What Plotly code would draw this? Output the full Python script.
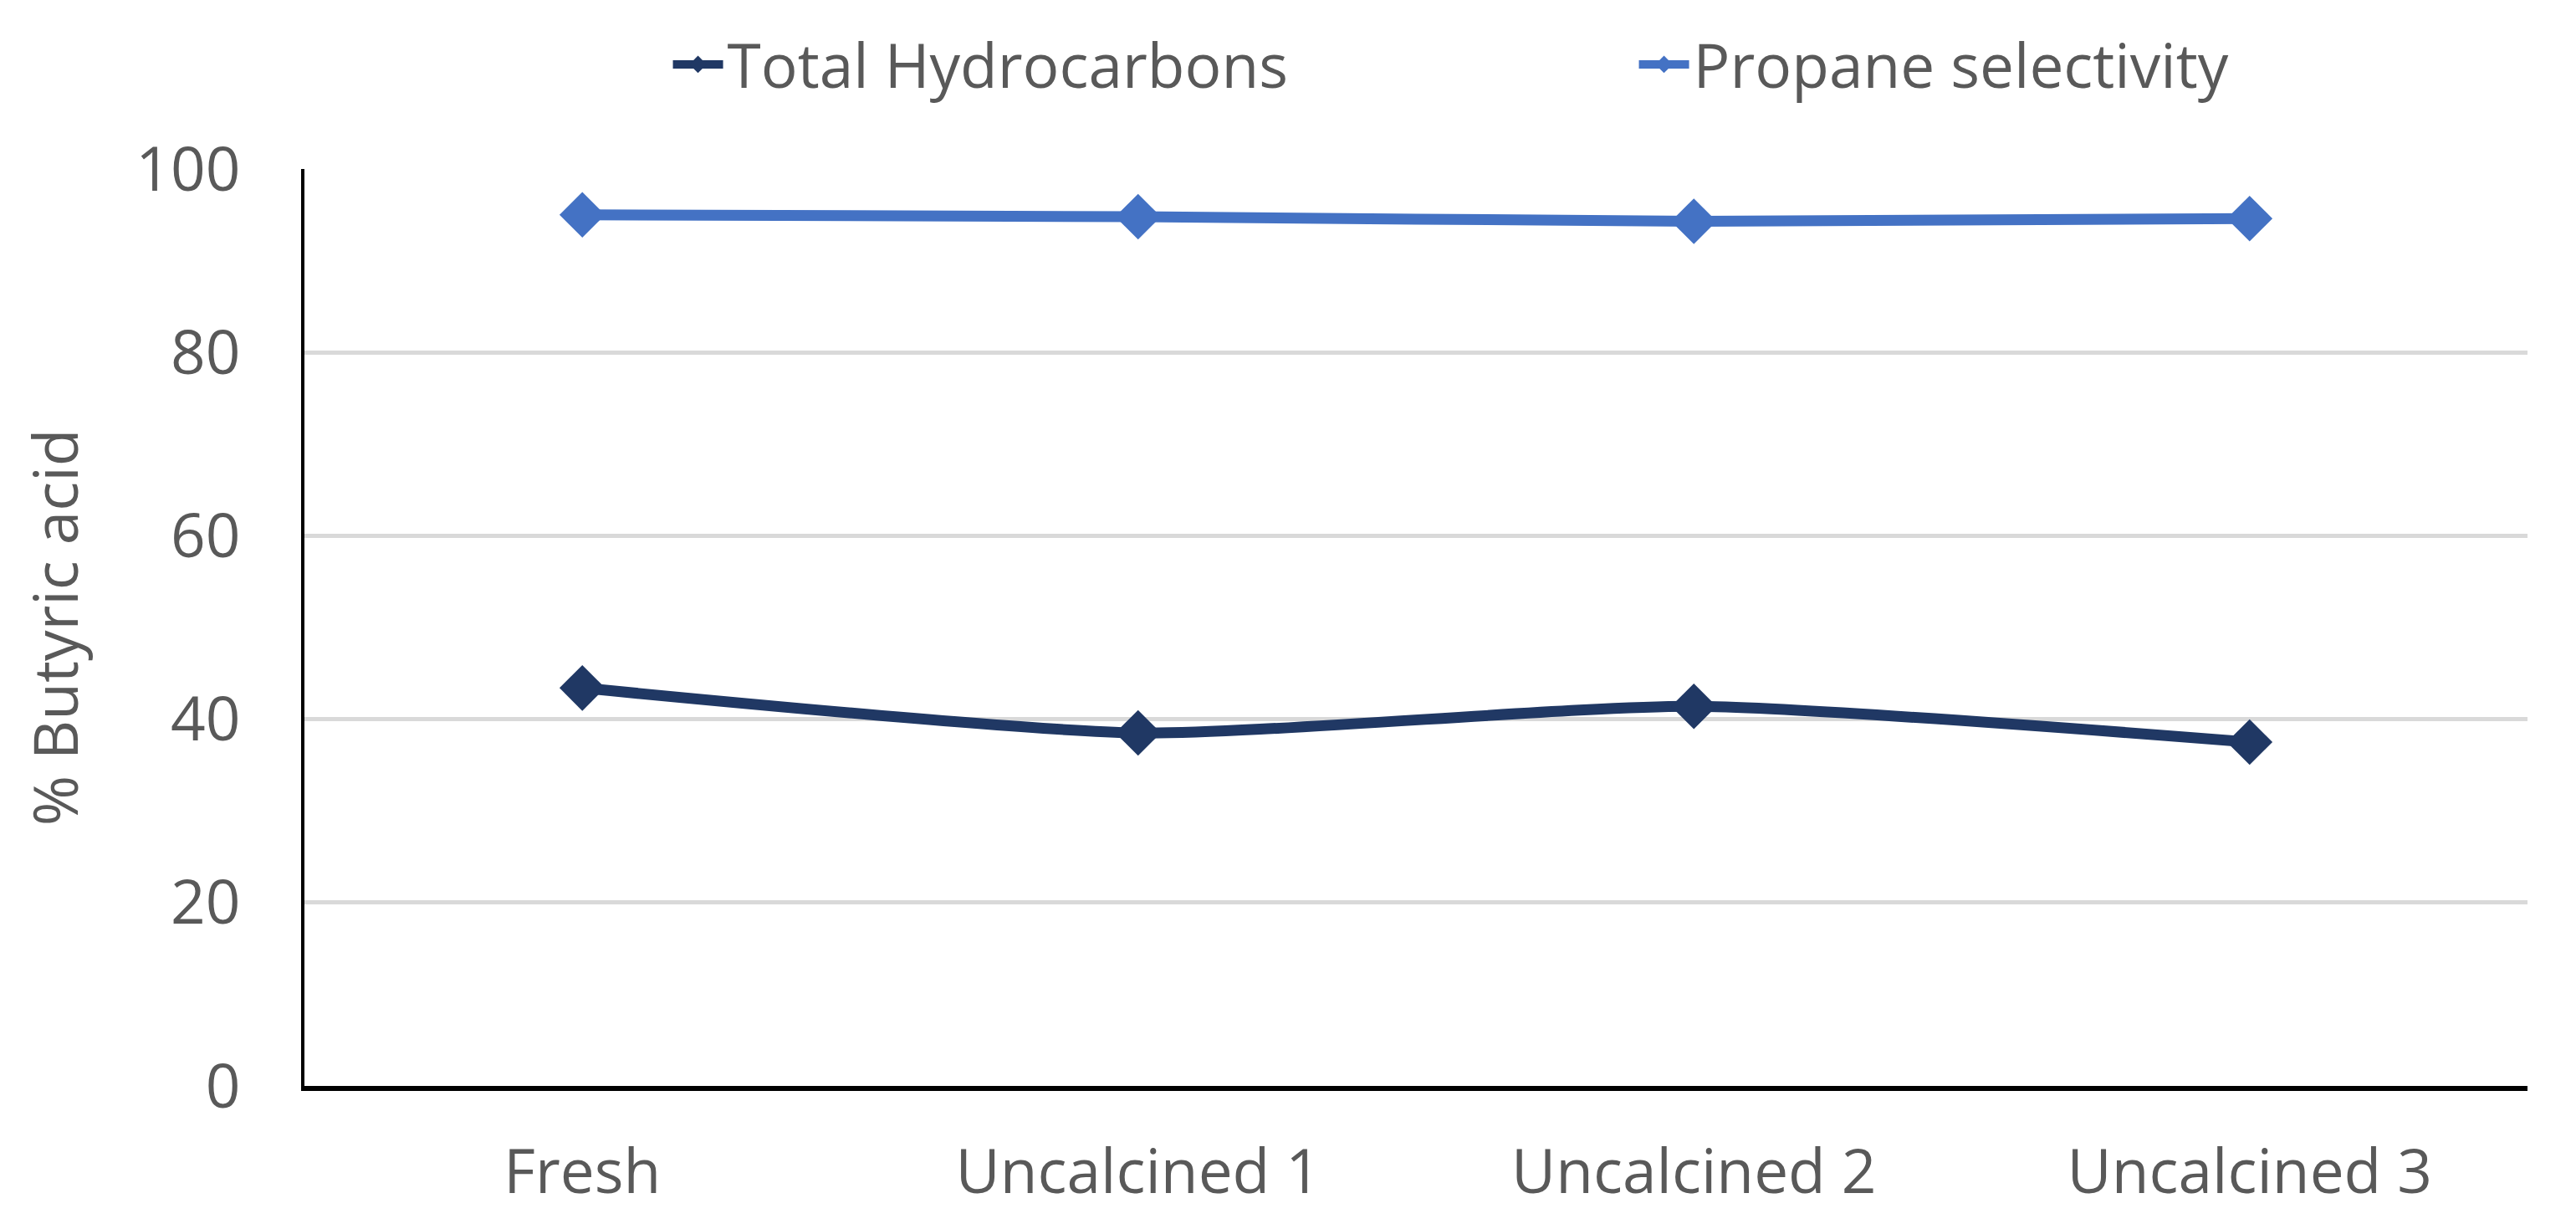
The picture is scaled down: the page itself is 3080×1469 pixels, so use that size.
import plotly.graph_objects as go

categories = ["Fresh", "Uncalcined 1", "Uncalcined 2", "Uncalcined 3"]
total_hydrocarbons = [43.4, 38.5, 41.4, 37.5]
propane_selectivity = [95.0, 94.8, 94.3, 94.6]
y_ticks = [0, 20, 40, 60, 80, 100]

FONT = "Open Sans"
GRAY = "#595959"
FS = 73

fig = go.Figure()
fig.add_trace(go.Scatter(
    x=categories, y=total_hydrocarbons, name="Total Hydrocarbons",
    mode="lines+markers",
    line=dict(color="#203864", width=13, shape="spline", smoothing=0.6),
    marker=dict(symbol="diamond", size=42, color="#203864"),
))
fig.add_trace(go.Scatter(
    x=categories, y=propane_selectivity, name="Propane selectivity",
    mode="lines+markers",
    line=dict(color="#4472c4", width=13, shape="spline", smoothing=0.6),
    marker=dict(symbol="diamond", size=42, color="#4472c4"),
))

fig.update_layout(
    width=3080, height=1469,
    paper_bgcolor="white", plot_bgcolor="white",
    margin=dict(l=356, r=66, t=194, b=179, autoexpand=False),
    font=dict(family=FONT, color=GRAY, size=FS),
    showlegend=True,
    legend=dict(
        orientation="h", xref="container", x=0.257, xanchor="left",
        yref="container", y=1 - 69 / 1469, yanchor="middle",
        font=dict(size=FS, color=GRAY, family=FONT),
        entrywidth=1080, itemwidth=60,
    ),
    xaxis=dict(
        type="category", range=[-0.5, 3.5],
        showline=True, linecolor="black", linewidth=6,
        showgrid=False, ticks="", tickfont=dict(size=FS, color=GRAY),
        ticklabelstandoff=34,
    ),
    yaxis=dict(
        range=[0, 100], tickvals=y_ticks,
        showline=True, linecolor="black", linewidth=4,
        showgrid=True, gridcolor="#d9d9d9", gridwidth=5,
        zeroline=False, ticks="", tickfont=dict(size=FS, color=GRAY),
        ticklabelstandoff=58,
        title=dict(text="% Butyric acid", font=dict(size=FS, color=GRAY), standoff=46),
    ),
)

fig.write_html("out.html")
